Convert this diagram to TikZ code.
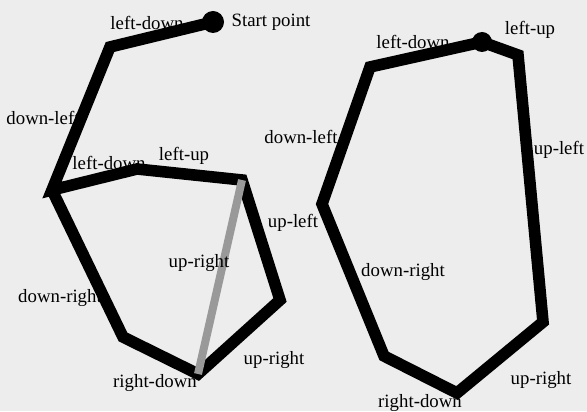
\documentclass[tikz,border=0pt]{standalone}
\usepackage{fontspec}
\setmainfont{Liberation Serif}
\usepackage{xcolor}
\usepackage{tikz}
\usetikzlibrary{positioning}

\begin{document}
\begin{tikzpicture}[x=0.5pt,y=-0.5pt,
  trail/.style={line width=5.8pt,black},
  shortcut/.style={line width=4pt,black!40},
  lbl/.style={font=\fontsize{9.4}{11}\selectfont,inner sep=0pt}]
\fill[black!7] (0,0) rectangle (587,411);
\useasboundingbox (0,0) rectangle (587,411);
% left walk
\foreach \n/\p in {s/{213,22},a/{110,47},b/{52,190},c/{137,169},d/{242,180},e/{280,300},f/{198,374},g/{123,337}}{
  \coordinate (\n) at (\p);
}
\draw[trail] (s) -- (a) -- (b) -- (c) -- (d) -- (e) -- (f) -- (g) -- (b);
\draw[shortcut] (d) -- (f);
\fill (s) circle (5.5pt);
\foreach \p/\lab [count=\i] in {{271,22}/Start point,{147,23}/left-down,{43,118}/down-left,{109,163}/left-down,{184,156}/left-up,{293,223}/up-left,{199,263}/up-right,{60,298}/down-right,{274,360}/up-right,{155,383}/right-down}{
  \node[lbl] (l\i) at (\p) {\lab};
}
% right walk
\foreach \n/\p in {r0/{482,42},r1/{370,67},r2/{322,204},r3/{384,356},r4/{457,393},r5/{543,322},r6/{518,55}}{
  \coordinate (\n) at (\p);
}
\draw[trail] (r0) -- (r1) -- (r2) -- (r3) -- (r4) -- (r5) -- (r6) -- cycle;
\fill (r0) circle (5pt);
\foreach \p/\lab [count=\i] in {{413,42}/left-down,{530,30}/left-up,{301,137}/down-left,{559,150}/up-left,{403,272}/down-right,{541,380}/up-right,{420,403}/right-down}{
  \node[lbl] (m\i) at (\p) {\lab};
}
\end{tikzpicture}
\end{document}
